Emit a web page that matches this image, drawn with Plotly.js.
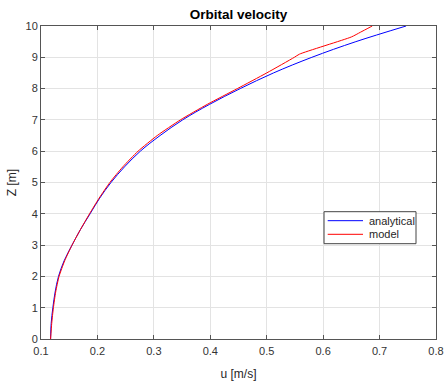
<!DOCTYPE html>
<html>
<head>
<meta charset="utf-8">
<script src="https://cdn.plot.ly/plotly-3.0.1.min.js"></script>
<style>html,body{margin:0;padding:0;background:#fff;}#chart{width:445px;height:381px;}</style>
</head>
<body>
<div id="chart"></div>
<script>
// Analytical profile
const zAnalytical = [0, 0.5, 1, 1.5, 2, 2.5, 3, 3.5, 4, 4.5, 5, 5.5, 6, 6.5, 7, 7.5, 8, 8.5, 9, 9.5, 10];
const uAnalytical = [0.117, 0.118, 0.121, 0.125, 0.131, 0.141, 0.155, 0.170, 0.187, 0.204, 0.224, 0.248, 0.276, 0.311, 0.351, 0.399, 0.453, 0.512, 0.580, 0.658, 0.747];
// Model profile
const zModel = [0, 0.5, 1, 1.5, 2, 2.5, 3, 3.5, 4, 4.5, 5, 5.5, 6, 6.5, 7, 7.5, 8, 8.5, 9, 9.1, 9.65, 9.8, 10];
const uModel = [0.117, 0.119, 0.122, 0.126, 0.132, 0.142, 0.155, 0.170, 0.186, 0.203, 0.222, 0.245, 0.272, 0.306, 0.347, 0.395, 0.448, 0.500, 0.549, 0.558, 0.650, 0.666, 0.687];
const xTicks = [0.1, 0.2, 0.3, 0.4, 0.5, 0.6, 0.7, 0.8];
const yTicks = [0, 1, 2, 3, 4, 5, 6, 7, 8, 9, 10];
const labels = {title: 'Orbital velocity', x: 'u [m/s]', y: 'Z [m]', s1: 'analytical', s2: 'model'};
const colors = ['#0000ff', '#ff0000'];

const font = 'Liberation Sans, Arial, Helvetica, sans-serif';
const traces = [
  {x: uAnalytical, y: zAnalytical, type: 'scatter', mode: 'lines', name: labels.s1,
   line: {color: colors[0], width: 1, shape: 'spline', smoothing: 1}},
  {x: uModel, y: zModel, type: 'scatter', mode: 'lines', name: labels.s2,
   line: {color: colors[1], width: 1, shape: 'spline', smoothing: 0.6}}
];
const axisCommon = {
  showline: true, linecolor: '#555555', linewidth: 1, mirror: 'allticks',
  ticks: 'inside', ticklen: 4, tickcolor: '#555555', tickwidth: 1,
  showgrid: true, gridcolor: '#e3e3e3', gridwidth: 1, zeroline: false,
  tickfont: {family: font, size: 11, color: '#333333'}
};
// custom legend (box, sample lines, labels) in paper coordinates
const legendShapes = [
  {type: 'rect', xref: 'paper', yref: 'paper', x0: 0.7165, x1: 0.9494, y0: 0.3045, y1: 0.4067,
   line: {color: '#444444', width: 1}, fillcolor: '#ffffff', layer: 'above'},
  {type: 'line', xref: 'paper', yref: 'paper', x0: 0.7258, x1: 0.8152, y0: 0.378, y1: 0.378,
   line: {color: colors[0], width: 1}, layer: 'above'},
  {type: 'line', xref: 'paper', yref: 'paper', x0: 0.7258, x1: 0.8152, y0: 0.3345, y1: 0.3345,
   line: {color: colors[1], width: 1}, layer: 'above'}
];
const legendAnn = [
  {xref: 'paper', yref: 'paper', x: 0.8246, y: 0.378, xanchor: 'left', yanchor: 'middle',
   text: labels.s1, showarrow: false, font: {family: font, size: 11, color: '#262626'}},
  {xref: 'paper', yref: 'paper', x: 0.8246, y: 0.3345, xanchor: 'left', yanchor: 'middle',
   text: labels.s2, showarrow: false, font: {family: font, size: 11, color: '#262626'}}
];
const layout = {
  width: 445, height: 381,
  margin: {l: 41, r: 9, t: 26, b: 42},
  paper_bgcolor: '#ffffff', plot_bgcolor: '#ffffff',
  font: {family: font, color: '#262626'},
  title: {text: '<b>' + labels.title + '</b>', font: {family: font, size: 13.5, color: '#000000'},
          x: 0.536, xanchor: 'center', y: 0.962, yanchor: 'middle', yref: 'container'},
  xaxis: Object.assign({}, axisCommon, {
    range: [0.1, 0.8], tickvals: xTicks, ticktext: xTicks.map(v => v.toFixed(1)),
    ticklabelstandoff: 2,
    title: {text: labels.x, font: {family: font, size: 12, color: '#262626'}, standoff: 13}
  }),
  yaxis: Object.assign({}, axisCommon, {
    range: [0, 10], tickvals: yTicks, ticktext: yTicks.map(String),
    title: {text: labels.y, font: {family: font, size: 12, color: '#262626'}, standoff: 6}
  }),
  showlegend: false,
  shapes: legendShapes,
  annotations: legendAnn
};
Plotly.newPlot('chart', traces, layout, {displayModeBar: false, staticPlot: true});
</script>
</body>
</html>
